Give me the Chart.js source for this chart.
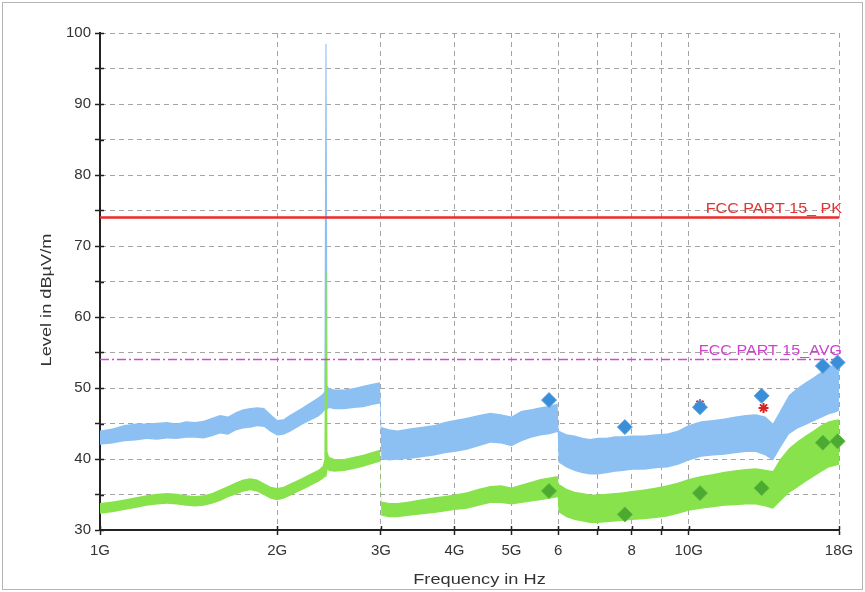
<!DOCTYPE html>
<html><head><meta charset="utf-8">
<script src="https://cdn.jsdelivr.net/npm/chart.js@4.4.1/dist/chart.umd.min.js"></script>
<style>
html,body{margin:0;padding:0;background:#fff;}
#wrap{position:relative;width:865px;height:592px;overflow:hidden;}
#frame{position:absolute;left:2px;top:2px;width:859px;height:586px;border:1px solid #b4b4b4;pointer-events:none;}
canvas{position:absolute;left:0;top:0;}
</style></head><body>
<div id="wrap"><canvas id="c" width="865" height="592"></canvas><div id="frame"></div></div>
<script>
// ---- data (frequency in GHz, level in dBµV/m) ----
const FREQ_GHZ = [
  1.00, 1.05, 1.10, 1.15, 1.20, 1.25, 1.30, 1.35, 1.40, 1.45,
  1.50, 1.55, 1.60, 1.65, 1.70, 1.75, 1.80, 1.85, 1.90, 1.95,
  2.00, 2.05, 2.10, 2.15, 2.20, 2.25, 2.30, 2.35, 2.39, 2.405,
  2.415, 2.425, 2.435, 2.45, 2.50, 2.60, 2.70, 2.80, 2.90, 2.99,
  3.005, 3.10, 3.20, 3.35, 3.50, 3.70, 3.85, 4.00, 4.20, 4.40,
  4.60, 4.80, 5.00, 5.20, 5.40, 5.60, 5.80, 5.99, 6.01, 6.20,
  6.40, 6.60, 6.80, 7.00, 7.25, 7.50, 7.75, 8.00, 8.40, 8.80,
  9.20, 9.60, 10.0, 10.5, 11.0, 11.5, 12.0, 12.5, 13.0, 13.5,
  13.9, 14.3, 14.8, 15.3, 15.8, 16.3, 16.8, 17.3, 17.7, 18.0
];
const PEAK_LOW = [
  42.0, 42.2, 42.5, 42.6, 42.8, 42.7, 42.9, 42.8, 43.0, 43.0,
  42.9, 43.2, 43.6, 43.4, 44.0, 44.3, 44.4, 44.6, 44.5, 43.8,
  43.3, 43.4, 43.8, 44.3, 44.8, 45.2, 45.6, 46.0, 46.5, 46.8,
  47.0, 47.0, 47.0, 47.2, 47.0, 47.0, 47.2, 47.3, 47.6, 47.8,
  40.0, 39.8, 39.9, 40.0, 40.2, 40.5, 40.8, 41.0, 41.3, 41.8,
  42.3, 42.2, 41.8, 42.5, 43.0, 43.3, 43.5, 43.8, 39.5, 38.8,
  38.3, 38.0, 37.8, 37.8, 38.0, 38.2, 38.3, 38.5, 38.5, 38.7,
  38.8, 39.2, 39.8, 40.3, 40.5, 40.6, 40.8, 41.0, 41.0, 40.5,
  39.8, 41.5, 43.5, 44.3, 44.8, 45.3, 45.8, 46.3, 46.5, 46.8
];
const PEAK_HIGH = [
  44.0, 44.3, 44.8, 45.0, 45.0, 45.1, 45.2, 45.0, 45.3, 45.2,
  45.4, 45.8, 46.2, 46.0, 46.6, 47.0, 47.2, 47.3, 47.2, 46.3,
  45.5, 45.6, 46.2, 46.7, 47.2, 47.7, 48.2, 48.7, 49.2, 49.5,
  98.5, 98.5, 50.3, 50.0, 49.8, 49.8, 50.0, 50.3, 50.6, 50.8,
  44.5, 44.2, 44.0, 44.3, 44.5, 44.8, 45.2, 45.5, 45.8, 46.2,
  46.5, 46.3, 46.0, 46.8, 47.0, 47.3, 47.5, 47.8, 44.0, 43.5,
  43.3, 43.0, 42.8, 43.0, 43.0, 43.2, 43.2, 43.3, 43.3, 43.5,
  43.6, 44.0, 44.8, 45.3, 45.5, 45.7, 46.0, 46.2, 46.3, 46.0,
  45.0, 46.8, 49.0, 50.0, 50.8, 51.5, 52.3, 53.0, 53.3, 53.5
];
const AVG_LOW = [
  32.3, 32.5, 32.8, 33.1, 33.4, 33.6, 33.7, 33.6, 33.4, 33.3,
  33.4, 33.7, 34.1, 34.6, 35.0, 35.4, 35.6, 35.4, 34.9, 34.4,
  34.2, 34.4, 34.8, 35.2, 35.6, 36.0, 36.4, 36.8, 37.2, 37.4,
  37.5, 37.5, 38.5, 38.3, 38.2, 38.3, 38.6, 38.9, 39.3, 39.6,
  32.0, 31.8, 31.8, 32.0, 32.2, 32.4, 32.6, 32.8, 33.0, 33.4,
  33.8, 33.8, 33.6, 33.8, 34.0, 34.2, 34.4, 34.6, 32.5, 31.8,
  31.4, 31.2, 31.0, 31.0, 31.1, 31.2, 31.3, 31.4, 31.5, 31.7,
  31.9, 32.3, 32.7, 33.0, 33.2, 33.4, 33.5, 33.6, 33.6, 33.3,
  33.0, 34.0, 35.2, 36.0, 36.8, 37.5, 38.2, 38.8, 39.0, 39.2
];
const AVG_HIGH = [
  33.8, 34.0, 34.3, 34.6, 34.9, 35.1, 35.2, 35.1, 34.9, 34.8,
  34.9, 35.2, 35.7, 36.2, 36.7, 37.1, 37.3, 37.1, 36.6, 36.1,
  35.9, 36.1, 36.5, 36.9, 37.3, 37.7, 38.1, 38.5, 39.0, 40.0,
  66.5, 66.5, 41.0, 40.3, 40.0, 40.0, 40.3, 40.6, 41.0, 41.3,
  34.0, 33.8, 33.8, 34.0, 34.3, 34.6, 34.8, 35.0, 35.3, 35.8,
  36.2, 36.3, 36.0, 36.4, 36.8, 37.2, 37.4, 37.6, 36.5, 35.8,
  35.4, 35.2, 35.0, 35.0, 35.1, 35.2, 35.3, 35.5, 35.7, 36.0,
  36.3, 36.7, 37.2, 37.6, 37.9, 38.2, 38.4, 38.6, 38.7, 38.5,
  38.3, 40.0, 41.5, 42.5, 43.3, 44.0, 44.8, 45.3, 45.5, 45.6
];
// final measurement markers
const MARK_FREQ_GHZ = [5.79, 7.79, 10.45, 13.3, 16.9, 17.9];
const MARK_PEAK = [48.3, 44.5, 47.3, 48.9, 53.1, 53.6];
const MARK_AVG = [35.5, 32.2, 35.2, 35.9, 42.3, 42.5];
const STAR_FREQ_GHZ = [10.45, 13.4];
const STAR_LEVEL = [47.7, 47.2];
// limit lines
const LIMIT_NAMES = ['FCC PART 15_ PK', 'FCC PART 15_AVG'];
const LIMIT_LEVELS = [74, 54];
const F_MIN = 1, F_MAX = 18;
// axis ticks and titles
const XTICK_VALUES = [1, 2, 3, 4, 5, 6, 7, 8, 9, 10, 18];
const XTICK_LABELS = ['1G', '2G', '3G', '4G', '5G', '6', '', '8', '', '10G', '18G'];
const Y_MIN = 30, Y_MAX = 100, Y_STEP = 5;
const X_TITLE = 'Frequency in Hz';
const Y_TITLE = 'Level in dBµV/m';

// ---- build ----
const pts = (xs, ys) => xs.map((x, i) => ({x, y: ys[i]}));
const FONT = '"Liberation Sans", Arial, sans-serif';
Chart.defaults.font.family = FONT;
Chart.defaults.font.size = 15;
Chart.defaults.color = '#333';

const BLUE = '#8cc0f2', GREEN = '#88e24c';
const band = (data, color, fill, order) => ({
  data, borderWidth: 0, borderColor: color, backgroundColor: color,
  pointRadius: 0, fill, order, tension: 0
});

const datasets = [
  band(pts(FREQ_GHZ, PEAK_HIGH), BLUE, '+1', 5),
  band(pts(FREQ_GHZ, PEAK_LOW), BLUE, false, 5),
  band(pts(FREQ_GHZ, AVG_HIGH), GREEN, '+1', 4),
  band(pts(FREQ_GHZ, AVG_LOW), GREEN, false, 4),
  {data: [{x: F_MIN, y: LIMIT_LEVELS[0]}, {x: F_MAX, y: LIMIT_LEVELS[0]}],
   borderColor: '#ee2a2a', borderWidth: 2.5, pointRadius: 0, fill: false, order: 3},
  {data: [{x: F_MIN, y: LIMIT_LEVELS[1]}, {x: F_MAX, y: LIMIT_LEVELS[1]}],
   borderColor: '#d548d5', borderWidth: 1.5, borderDash: [9, 3, 2, 3], pointRadius: 0, fill: false, order: 3},
  {data: pts(STAR_FREQ_GHZ, STAR_LEVEL), showLine: false, pointStyle: 'star',
   pointRadius: 5, borderColor: '#e02020', backgroundColor: '#e02020', pointBorderWidth: 2, order: 2, clip: false},
  {data: pts(MARK_FREQ_GHZ, MARK_PEAK), showLine: false, pointStyle: 'rectRot',
   pointRadius: 7.5, backgroundColor: '#3a8ed8', borderColor: '#5aa2e0', pointBorderWidth: 1, order: 1, clip: false},
  {data: pts(MARK_FREQ_GHZ, MARK_AVG), showLine: false, pointStyle: 'rectRot',
   pointRadius: 7.5, backgroundColor: '#4caa30', borderColor: '#5cb840', pointBorderWidth: 1, order: 1, clip: false}
];

function stretchedText(ctx, text, x, y, rot, sx, font, color) {
  ctx.save();
  ctx.translate(x, y);
  if (rot) ctx.rotate(rot);
  ctx.scale(sx, 1);
  ctx.font = font;
  ctx.fillStyle = color;
  ctx.fillText(text, 0, 0);
  ctx.restore();
}

const extras = {
  id: 'extras',
  afterDatasetsDraw(chart) {
    const {ctx, chartArea, scales: {x, y}} = chart;
    ctx.save();
    ctx.textAlign = 'right';
    ctx.textBaseline = 'alphabetic';
    const cols = ['#e03434', '#d040d0'];
    LIMIT_NAMES.forEach((name, i) => {
      stretchedText(ctx, name, chartArea.right + 3, y.getPixelForValue(LIMIT_LEVELS[i]) - 5,
                    0, 1.15, '14px ' + FONT, cols[i]);
    });
    // axis titles
    ctx.textAlign = 'center';
    ctx.textBaseline = 'middle';
    stretchedText(ctx, X_TITLE, (chartArea.left + chartArea.right) / 2 + 10, 580, 0, 1.3, '14px ' + FONT, '#333');
    stretchedText(ctx, Y_TITLE, 47, 300, -Math.PI / 2, 1.3, '14px ' + FONT, '#333');
    // small inner tick marks crossing the axes
    ctx.strokeStyle = '#222';
    ctx.lineWidth = 1.5;
    ctx.beginPath();
    y.ticks.forEach(t => {
      const py = Math.round(y.getPixelForValue(t.value)) + 0.5;
      ctx.moveTo(chartArea.left, py); ctx.lineTo(chartArea.left + 4, py);
    });
    x.ticks.forEach(t => {
      const px = Math.round(x.getPixelForValue(t.value)) + 0.5;
      ctx.moveTo(px, chartArea.bottom); ctx.lineTo(px, chartArea.bottom - 4);
    });
    ctx.stroke();
    ctx.restore();
  }
};

new Chart(document.getElementById('c'), {
  type: 'line',
  data: {datasets},
  plugins: [extras],
  options: {
    responsive: false, animation: false, devicePixelRatio: 1,
    layout: {padding: {left: 0, right: 26, top: 33, bottom: 0}},
    plugins: {legend: {display: false}, tooltip: {enabled: false}},
    scales: {
      x: {
        type: 'logarithmic', min: F_MIN, max: F_MAX,
        afterBuildTicks: s => { s.ticks = XTICK_VALUES.map(v => ({value: v})); },
        afterFit: s => { s.height = 62; },
        ticks: {
          autoSkip: false, maxRotation: 0, minRotation: 0, padding: 7, color: '#333',
          callback: (v) => { const i = XTICK_VALUES.indexOf(v); return i >= 0 ? XTICK_LABELS[i] : ''; }
        },
        grid: {color: '#a4a4a4', lineWidth: 1, tickColor: '#222',
               tickLength: 5, tickWidth: 1.5, tickBorderDash: []},
        border: {display: true, color: '#222', width: 2, dash: [5, 4]},
        title: {display: false}
      },
      y: {
        type: 'linear', min: Y_MIN, max: Y_MAX,
        afterFit: s => { s.width = 100; },
        ticks: {stepSize: Y_STEP, padding: 4, color: '#333',
          callback: v => (v % 10 === 0 ? String(v) : '')},
        grid: {color: '#a4a4a4', lineWidth: 1, tickColor: '#222',
               tickLength: 5, tickWidth: 1.5, tickBorderDash: []},
        border: {display: true, color: '#222', width: 2, dash: [5, 4]},
        title: {display: false}
      }
    }
  }
});
</script>
</body></html>
